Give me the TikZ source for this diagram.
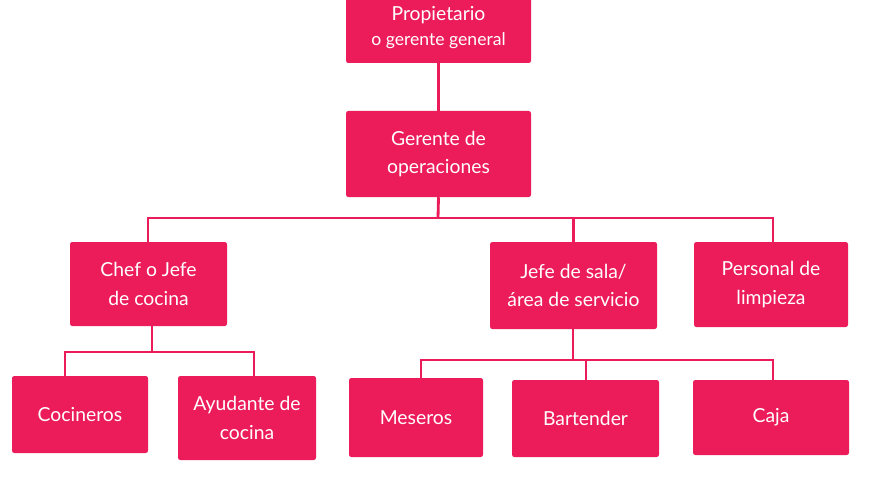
\documentclass[tikz,border=0pt]{standalone}
\usepackage{fontspec}
\setmainfont{Lato}
\definecolor{pk}{HTML}{EC1C5B}
\begin{document}
\begin{tikzpicture}[x=0.03cm,y=-0.03cm,
  box/.style={fill=pk,text=white,rounded corners=2pt,align=center,inner sep=0pt,font=\fontsize{16.5}{24}\selectfont},
  ln/.style={draw=pk,line width=2.4pt}]
\fill[white] (0,0) rectangle (880,480);
\useasboundingbox (0,0) rectangle (880,480);
\newcommand\bx[6]{\node[box,minimum width={(#4-#2)*0.03cm},minimum height={(#5-#3)*0.03cm}] (#1) at ({(#2+#4)/2},{(#3+#5)/2}) {#6};}
\bx{p}{346}{-8}{531}{63}{Propietario\\[-3pt]\fontsize{15}{18}\selectfont o gerente general}
\bx{g}{346}{111}{531}{197}{Gerente de\\operaciones}
\bx{c}{70}{242}{227}{326}{Chef o Jefe\\de cocina}
\bx{j}{490}{242}{657}{329}{Jefe de sala/\\área de servicio}
\bx{l}{694}{242}{848}{327}{Personal de\\limpieza}
\bx{co}{12}{376}{148}{453}{Cocineros}
\bx{a}{178}{376}{316}{460}{Ayudante de\\cocina}
\bx{m}{349}{378}{483}{457}{Meseros}
\bx{b}{512}{380}{659}{457}{Bartender}
\bx{k}{693}{380}{849}{455}{Caja}
\coordinate (b1) at (438,218);
\coordinate (b1l) at (148,218);
\coordinate (b1r) at (773,218);
\coordinate (b2) at (152,352);
\coordinate (b2l) at (65,352);
\coordinate (b2r) at (254,352);
\coordinate (b3) at (573,360);
\coordinate (b3l) at (421,360);
\coordinate (b3m) at (586,360);
\coordinate (b3r) at (773,360);
\draw[ln] (p.south) -- (g.north);
\draw[ln] (g.south) -- (b1);
\draw[ln] (c.north -| b1l) -- (b1l) -- (b1r) -- (l.north -| b1r);
\draw[ln] (b1 -| j.north) -- (j.north);
\draw[ln] (c.south -| b2) -- (b2);
\draw[ln] (co.north -| b2l) -- (b2l) -- (b2r) -- (a.north -| b2r);
\draw[ln] (j.south -| b3) -- (b3);
\draw[ln] (m.north -| b3l) -- (b3l) -- (b3r) -- (k.north -| b3r);
\draw[ln] (b3m) -- (b.north -| b3m);
\end{tikzpicture}
\end{document}
